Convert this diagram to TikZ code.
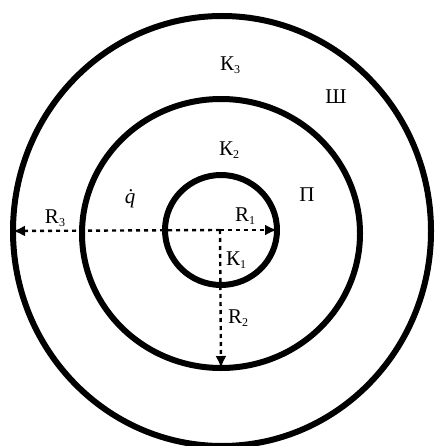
\documentclass[tikz,border=0pt]{standalone}
\usepackage{fontspec}
\setmainfont{Liberation Serif}
\usetikzlibrary{shapes.geometric,arrows.meta}
\newcommand{\sbs}[1]{\raisebox{-0.35ex}{\fontsize{12}{13}\selectfont #1}}
\begin{document}
\begin{tikzpicture}[x=1pt,y=-1pt,
  ring/.style={draw=black, ellipse, line width=6pt, inner sep=0pt, outer sep=0pt},
  radius line/.style={line width=2.4pt, dash pattern=on 4pt off 4pt, -{Latex[length=12pt,width=11pt]}},
  lbl/.style={font=\fontsize{21}{25}\selectfont, inner sep=0pt}]
\useasboundingbox (0,0) rectangle (436,446);
\node[ring, minimum width=418pt, minimum height=430pt] (outer) at (222,231) {};
\node[ring, minimum width=278pt, minimum height=269pt] (middle) at (221,233.5) {};
\node[ring, minimum width=112pt, minimum height=110pt] (inner) at (221,230) {};
\coordinate (c) at (220,230);
\draw[radius line] (c) -- (outer.west);
\draw[radius line] (c) -- (inner.east);
\draw[radius line] (c) -- (middle.south);
\node[lbl] (k3) at (230,65) {К\sbs{3}};
\node[lbl] (sh) at (336,97) {Ш};
\node[lbl] (k2) at (229,150) {К\sbs{2}};
\node[lbl] (p) at (307,195) {П};
\node[lbl] (q) at (133,199) {\textit{\.q}};
\node[lbl] (r3) at (55,218) {R\sbs{3}};
\node[lbl] (r1) at (245,216) {R\sbs{1}};
\node[lbl] (k1) at (236,260) {К\sbs{1}};
\node[lbl] (r2) at (238,318) {R\sbs{2}};
\end{tikzpicture}
\end{document}
